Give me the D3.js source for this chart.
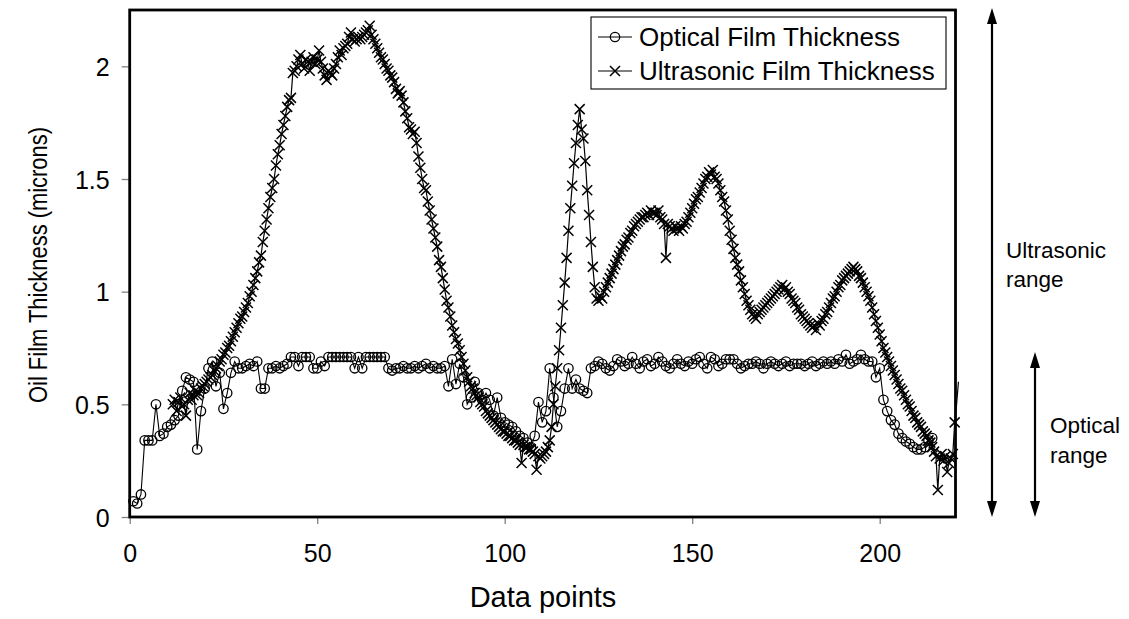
<!DOCTYPE html>
<html>
<head>
<meta charset="utf-8">
<script src="https://cdn.jsdelivr.net/npm/d3@7"></script>
<style>
  body { margin: 0; background: #fff; }
  text { font-family: Arial, "Liberation Sans", sans-serif; fill: #000; }
</style>
</head>
<body>
<svg id="chart" width="1129" height="619"></svg>
<script>
// ---- data ----
// Optical film thickness, one reading per data point (1..214)
const opticalValues = [
  0.07, 0.06, 0.10, 0.34, 0.34, 0.34, 0.50, 0.36, 0.37, 0.40,
  0.41, 0.43, 0.45, 0.56, 0.62, 0.61, 0.60, 0.30, 0.47, 0.57,
  0.66, 0.69, 0.58, 0.64, 0.48, 0.55, 0.64, 0.69, 0.66, 0.66,
  0.67, 0.68, 0.67, 0.69, 0.57, 0.57, 0.66, 0.66, 0.67, 0.66,
  0.67, 0.68, 0.71, 0.71, 0.67, 0.71, 0.71, 0.71, 0.66, 0.66,
  0.69, 0.67, 0.71, 0.71, 0.71, 0.71, 0.71, 0.71, 0.71, 0.66,
  0.71, 0.66, 0.71, 0.71, 0.71, 0.71, 0.71, 0.71, 0.66, 0.65,
  0.66, 0.66, 0.67, 0.66, 0.66, 0.67, 0.66, 0.67, 0.68, 0.66,
  0.67, 0.66, 0.66, 0.67, 0.58, 0.70, 0.59, 0.68, 0.62, 0.50,
  0.53, 0.60, 0.55, 0.52, 0.55, 0.52, 0.45, 0.53, 0.44, 0.42,
  0.41, 0.40, 0.38, 0.36, 0.35, 0.33, 0.31, 0.36, 0.51, 0.42,
  0.47, 0.66, 0.53, 0.40, 0.47, 0.57, 0.66, 0.57, 0.61, 0.57,
  0.56, 0.55, 0.66, 0.67, 0.69, 0.68, 0.66, 0.65, 0.67, 0.70,
  0.69, 0.67, 0.68, 0.71, 0.68, 0.66, 0.69, 0.70, 0.67, 0.68,
  0.71, 0.69, 0.67, 0.66, 0.68, 0.70, 0.68, 0.67, 0.69, 0.68,
  0.70, 0.71, 0.68, 0.66, 0.71, 0.70, 0.67, 0.68, 0.70, 0.70,
  0.70, 0.68, 0.66, 0.67, 0.68, 0.68, 0.69, 0.68, 0.66, 0.68,
  0.69, 0.68, 0.67, 0.68, 0.69, 0.67, 0.68, 0.68, 0.68, 0.67,
  0.68, 0.69, 0.67, 0.68, 0.69, 0.68, 0.69, 0.68, 0.70, 0.69,
  0.72, 0.68, 0.69, 0.70, 0.72, 0.70, 0.69, 0.69, 0.62, 0.66,
  0.52, 0.47, 0.43, 0.41, 0.37, 0.35, 0.335, 0.325, 0.31, 0.30,
  0.30, 0.31, 0.34, 0.35
];
const opticalPoints = opticalValues.map((_, i) => i + 1);

// Ultrasonic film thickness, sampled every half data point from 11.5 to 221
const ultrasonicValues = [
  0.50, 0.52, 0.47, 0.51, 0.53, 0.49, 0.50, 0.45, 0.52, 0.55,
  0.52, 0.54, 0.56, 0.54, 0.55, 0.57, 0.58, 0.59, 0.60, 0.61,
  0.62, 0.63, 0.65, 0.66, 0.67, 0.69, 0.70, 0.72, 0.73, 0.75,
  0.76, 0.78, 0.80, 0.82, 0.84, 0.86, 0.88, 0.89, 0.91, 0.93,
  0.95, 0.98, 1.00, 1.03, 1.06, 1.09, 1.13, 1.16, 1.22, 1.27,
  1.32, 1.37, 1.42, 1.46, 1.50, 1.56, 1.61, 1.65, 1.70, 1.74,
  1.78, 1.82, 1.85, 1.86, 1.97, 1.98, 2.00, 2.03, 2.05, 2.01,
  1.99, 2.03, 2.02, 1.98, 2.02, 2.04, 2.01, 2.03, 2.07, 2.02,
  1.99, 1.96, 1.94, 1.98, 1.97, 1.96, 1.99, 2.01, 2.04, 2.07,
  2.05, 2.08, 2.09, 2.10, 2.13, 2.15, 2.12, 2.11, 2.12, 2.13,
  2.12, 2.13, 2.14, 2.15, 2.16, 2.18, 2.14, 2.12, 2.10, 2.08,
  2.06, 2.04, 2.03, 2.01, 1.99, 1.98, 1.96, 1.95, 1.93, 1.90,
  1.88, 1.89, 1.87, 1.84, 1.80, 1.77, 1.73, 1.72, 1.70, 1.71,
  1.66, 1.60, 1.55, 1.50, 1.46, 1.45, 1.40, 1.36, 1.32, 1.28,
  1.24, 1.20, 1.14, 1.11, 1.06, 1.01, 0.96, 0.93, 0.89, 0.85,
  0.82, 0.79, 0.77, 0.74, 0.71, 0.68, 0.65, 0.62, 0.60, 0.58,
  0.57, 0.55, 0.54, 0.53, 0.51, 0.50, 0.49, 0.47, 0.46, 0.45,
  0.44, 0.43, 0.42, 0.41, 0.40, 0.39, 0.38, 0.38, 0.37, 0.36,
  0.36, 0.35, 0.34, 0.34, 0.33, 0.32, 0.24, 0.32, 0.31, 0.31,
  0.30, 0.30, 0.29, 0.28, 0.21, 0.27, 0.26, 0.27, 0.28, 0.29,
  0.31, 0.34, 0.40, 0.50, 0.58, 0.66, 0.74, 0.84, 0.94, 1.04,
  1.15, 1.27, 1.37, 1.47, 1.57, 1.66, 1.74, 1.81, 1.72, 1.68,
  1.58, 1.45, 1.34, 1.22, 1.11, 1.02, 0.97, 0.96, 0.98, 0.97,
  1.00, 1.02, 1.04, 1.06, 1.08, 1.10, 1.12, 1.14, 1.16, 1.18,
  1.20, 1.21, 1.23, 1.24, 1.26, 1.27, 1.29, 1.30, 1.31, 1.32,
  1.33, 1.33, 1.34, 1.35, 1.34, 1.36, 1.35, 1.35, 1.34, 1.36,
  1.33, 1.32, 1.30, 1.15, 1.30, 1.29, 1.28, 1.27, 1.29, 1.28,
  1.27, 1.29, 1.28, 1.30, 1.31, 1.33, 1.35, 1.37, 1.39, 1.41,
  1.42, 1.44, 1.46, 1.48, 1.50, 1.51, 1.53, 1.52, 1.54, 1.51,
  1.50, 1.48, 1.45, 1.42, 1.40, 1.36, 1.32, 1.27, 1.23, 1.19,
  1.15, 1.12, 1.09, 1.05, 1.02, 0.99, 0.96, 0.94, 0.92, 0.90,
  0.89, 0.88, 0.90, 0.91, 0.92, 0.93, 0.94, 0.95, 0.96, 0.97,
  0.98, 0.99, 1.00, 1.01, 1.02, 1.03, 1.01, 1.02, 1.00, 0.99,
  0.97, 0.96, 0.95, 0.93, 0.92, 0.90, 0.89, 0.88, 0.87, 0.86,
  0.85, 0.84, 0.85, 0.83, 0.86, 0.85, 0.87, 0.88, 0.90, 0.91,
  0.93, 0.95, 0.97, 0.98, 1.00, 1.02, 1.03, 1.05, 1.06, 1.07,
  1.08, 1.09, 1.10, 1.11, 1.10, 1.09, 1.07, 1.06, 1.04, 1.02,
  1.00, 0.98, 0.96, 0.93, 0.90, 0.87, 0.84, 0.81, 0.78, 0.75,
  0.73, 0.71, 0.69, 0.67, 0.65, 0.63, 0.61, 0.59, 0.57, 0.56,
  0.54, 0.52, 0.50, 0.49, 0.47, 0.45, 0.44, 0.42, 0.41, 0.40,
  0.38, 0.37, 0.36, 0.34, 0.33, 0.31, 0.29, 0.27, 0.12, 0.26,
  0.28, 0.25, 0.27, 0.20, 0.24, 0.26, 0.28, 0.42, 0.50, 0.60
];
const ultrasonicPoints = ultrasonicValues.map((_, i) => 11.5 + i * 0.5);

const xTicks = [0, 50, 100, 150, 200];
const yTicks = [0, 0.5, 1, 1.5, 2];
const seriesNames = ["Optical Film Thickness", "Ultrasonic Film Thickness"];

// ---- layout ----
const svg = d3.select("#chart");
const plotLeft = 129.7, plotRight = 955.5, plotTop = 10, plotBottom = 517;
const x = d3.scaleLinear().domain([0, 220]).range([plotLeft, plotLeft + 220 * 3.75]);
const y = d3.scaleLinear().domain([0, 2.25]).range([plotBottom, plotTop]);

svg.append("defs").append("clipPath").attr("id", "plotClip")
  .append("rect").attr("x", plotLeft).attr("y", plotTop)
  .attr("width", 960 - plotLeft).attr("height", plotBottom - plotTop);

// axes
const xAxis = svg.append("g").attr("transform", `translate(0,${plotBottom})`)
  .call(d3.axisBottom(x).tickValues(xTicks).tickSize(7).tickSizeOuter(0).tickPadding(20));
const yAxis = svg.append("g").attr("transform", `translate(${plotLeft},0)`)
  .call(d3.axisLeft(y).tickValues(yTicks).tickFormat(d => String(d)).tickSize(8).tickSizeOuter(0).tickPadding(12));
[xAxis, yAxis].forEach(g => {
  g.select(".domain").remove();
  g.selectAll(".tick line").attr("stroke", "#808080").attr("stroke-width", 1.3);
  g.selectAll(".tick text").attr("font-size", 25).attr("font-family", "Arial, 'Liberation Sans', sans-serif").attr("fill", "#000");
});
yAxis.selectAll(".tick text").attr("dy", "0.36em");

// series
const plot = svg.append("g").attr("clip-path", "url(#plotClip)");
const opt = opticalPoints.map((p, i) => [p, opticalValues[i]]);
const ult = ultrasonicPoints.map((p, i) => [p, ultrasonicValues[i]]);
const line = d3.line().x(d => x(d[0])).y(d => y(d[1]));

plot.append("path").datum(opt).attr("d", line)
  .attr("fill", "none").attr("stroke", "#000").attr("stroke-width", 1.1);
plot.append("path").datum(ult).attr("d", line)
  .attr("fill", "none").attr("stroke", "#000").attr("stroke-width", 1.2);

const markers = svg.append("g");
markers.selectAll("circle.opt").data(opt).join("circle")
  .attr("class", "opt")
  .attr("cx", d => x(d[0])).attr("cy", d => y(d[1])).attr("r", 4.7)
  .attr("fill", "none").attr("stroke", "#000").attr("stroke-width", 1.3);

const xs = 5;
markers.selectAll("path.ult").data(ult.filter(d => d[0] <= 220)).join("path")
  .attr("class", "ult")
  .attr("d", d => {
    const cx = x(d[0]), cy = y(d[1]);
    return `M${cx - xs},${cy - xs}L${cx + xs},${cy + xs}M${cx - xs},${cy + xs}L${cx + xs},${cy - xs}`;
  })
  .attr("fill", "none").attr("stroke", "#000").attr("stroke-width", 1.5);

// frame
svg.append("rect").attr("x", plotLeft).attr("y", plotTop)
  .attr("width", plotRight - plotLeft).attr("height", plotBottom - plotTop)
  .attr("fill", "none").attr("stroke", "#000").attr("stroke-width", 2.8);

// axis titles
svg.append("text").attr("x", 543).attr("y", 607).attr("text-anchor", "middle")
  .attr("font-size", 29).text("Data points");
svg.append("text").attr("transform", "translate(47,265) rotate(-90) scale(0.86,1)")
  .attr("text-anchor", "middle").attr("font-size", 25.5)
  .text("Oil Film Thickness (microns)");

// legend
const lg = svg.append("g");
lg.append("rect").attr("x", 591).attr("y", 17).attr("width", 355).attr("height", 72)
  .attr("fill", "#fff").attr("stroke", "#000").attr("stroke-width", 1.1);
seriesNames.forEach((name, i) => {
  const cy = 37 + i * 34;
  lg.append("line").attr("x1", 598).attr("x2", 632).attr("y1", cy).attr("y2", cy)
    .attr("stroke", "#000").attr("stroke-width", 1.1);
  if (i === 0) {
    lg.append("circle").attr("cx", 615).attr("cy", cy).attr("r", 4.7)
      .attr("fill", "none").attr("stroke", "#000").attr("stroke-width", 1.3);
  } else {
    lg.append("path")
      .attr("d", `M${615 - xs},${cy - xs}L${615 + xs},${cy + xs}M${615 - xs},${cy + xs}L${615 + xs},${cy - xs}`)
      .attr("stroke", "#000").attr("stroke-width", 1.5);
  }
  lg.append("text").attr("x", 639).attr("y", cy).attr("dy", "0.36em")
    .attr("font-size", 26).text(name);
});

// range indicators
function doubleArrow(xp, y1, y2) {
  const g = svg.append("g");
  g.append("line").attr("x1", xp).attr("x2", xp).attr("y1", y1 + 10).attr("y2", y2 - 10)
    .attr("stroke", "#000").attr("stroke-width", 2.2);
  g.append("path").attr("d", `M${xp},${y1}L${xp - 5},${y1 + 16}L${xp + 5},${y1 + 16}Z`).attr("fill", "#000");
  g.append("path").attr("d", `M${xp},${y2}L${xp - 5},${y2 - 16}L${xp + 5},${y2 - 16}Z`).attr("fill", "#000");
}
doubleArrow(992, 8, 517);
doubleArrow(1035, 352, 517);

const noteFont = 22.5;
svg.append("text").attr("x", 1006).attr("y", 258).attr("font-size", noteFont).text("Ultrasonic");
svg.append("text").attr("x", 1006).attr("y", 287).attr("font-size", noteFont).text("range");
svg.append("text").attr("x", 1050).attr("y", 433).attr("font-size", noteFont).text("Optical");
svg.append("text").attr("x", 1050).attr("y", 463).attr("font-size", noteFont).text("range");
</script>
</body>
</html>
